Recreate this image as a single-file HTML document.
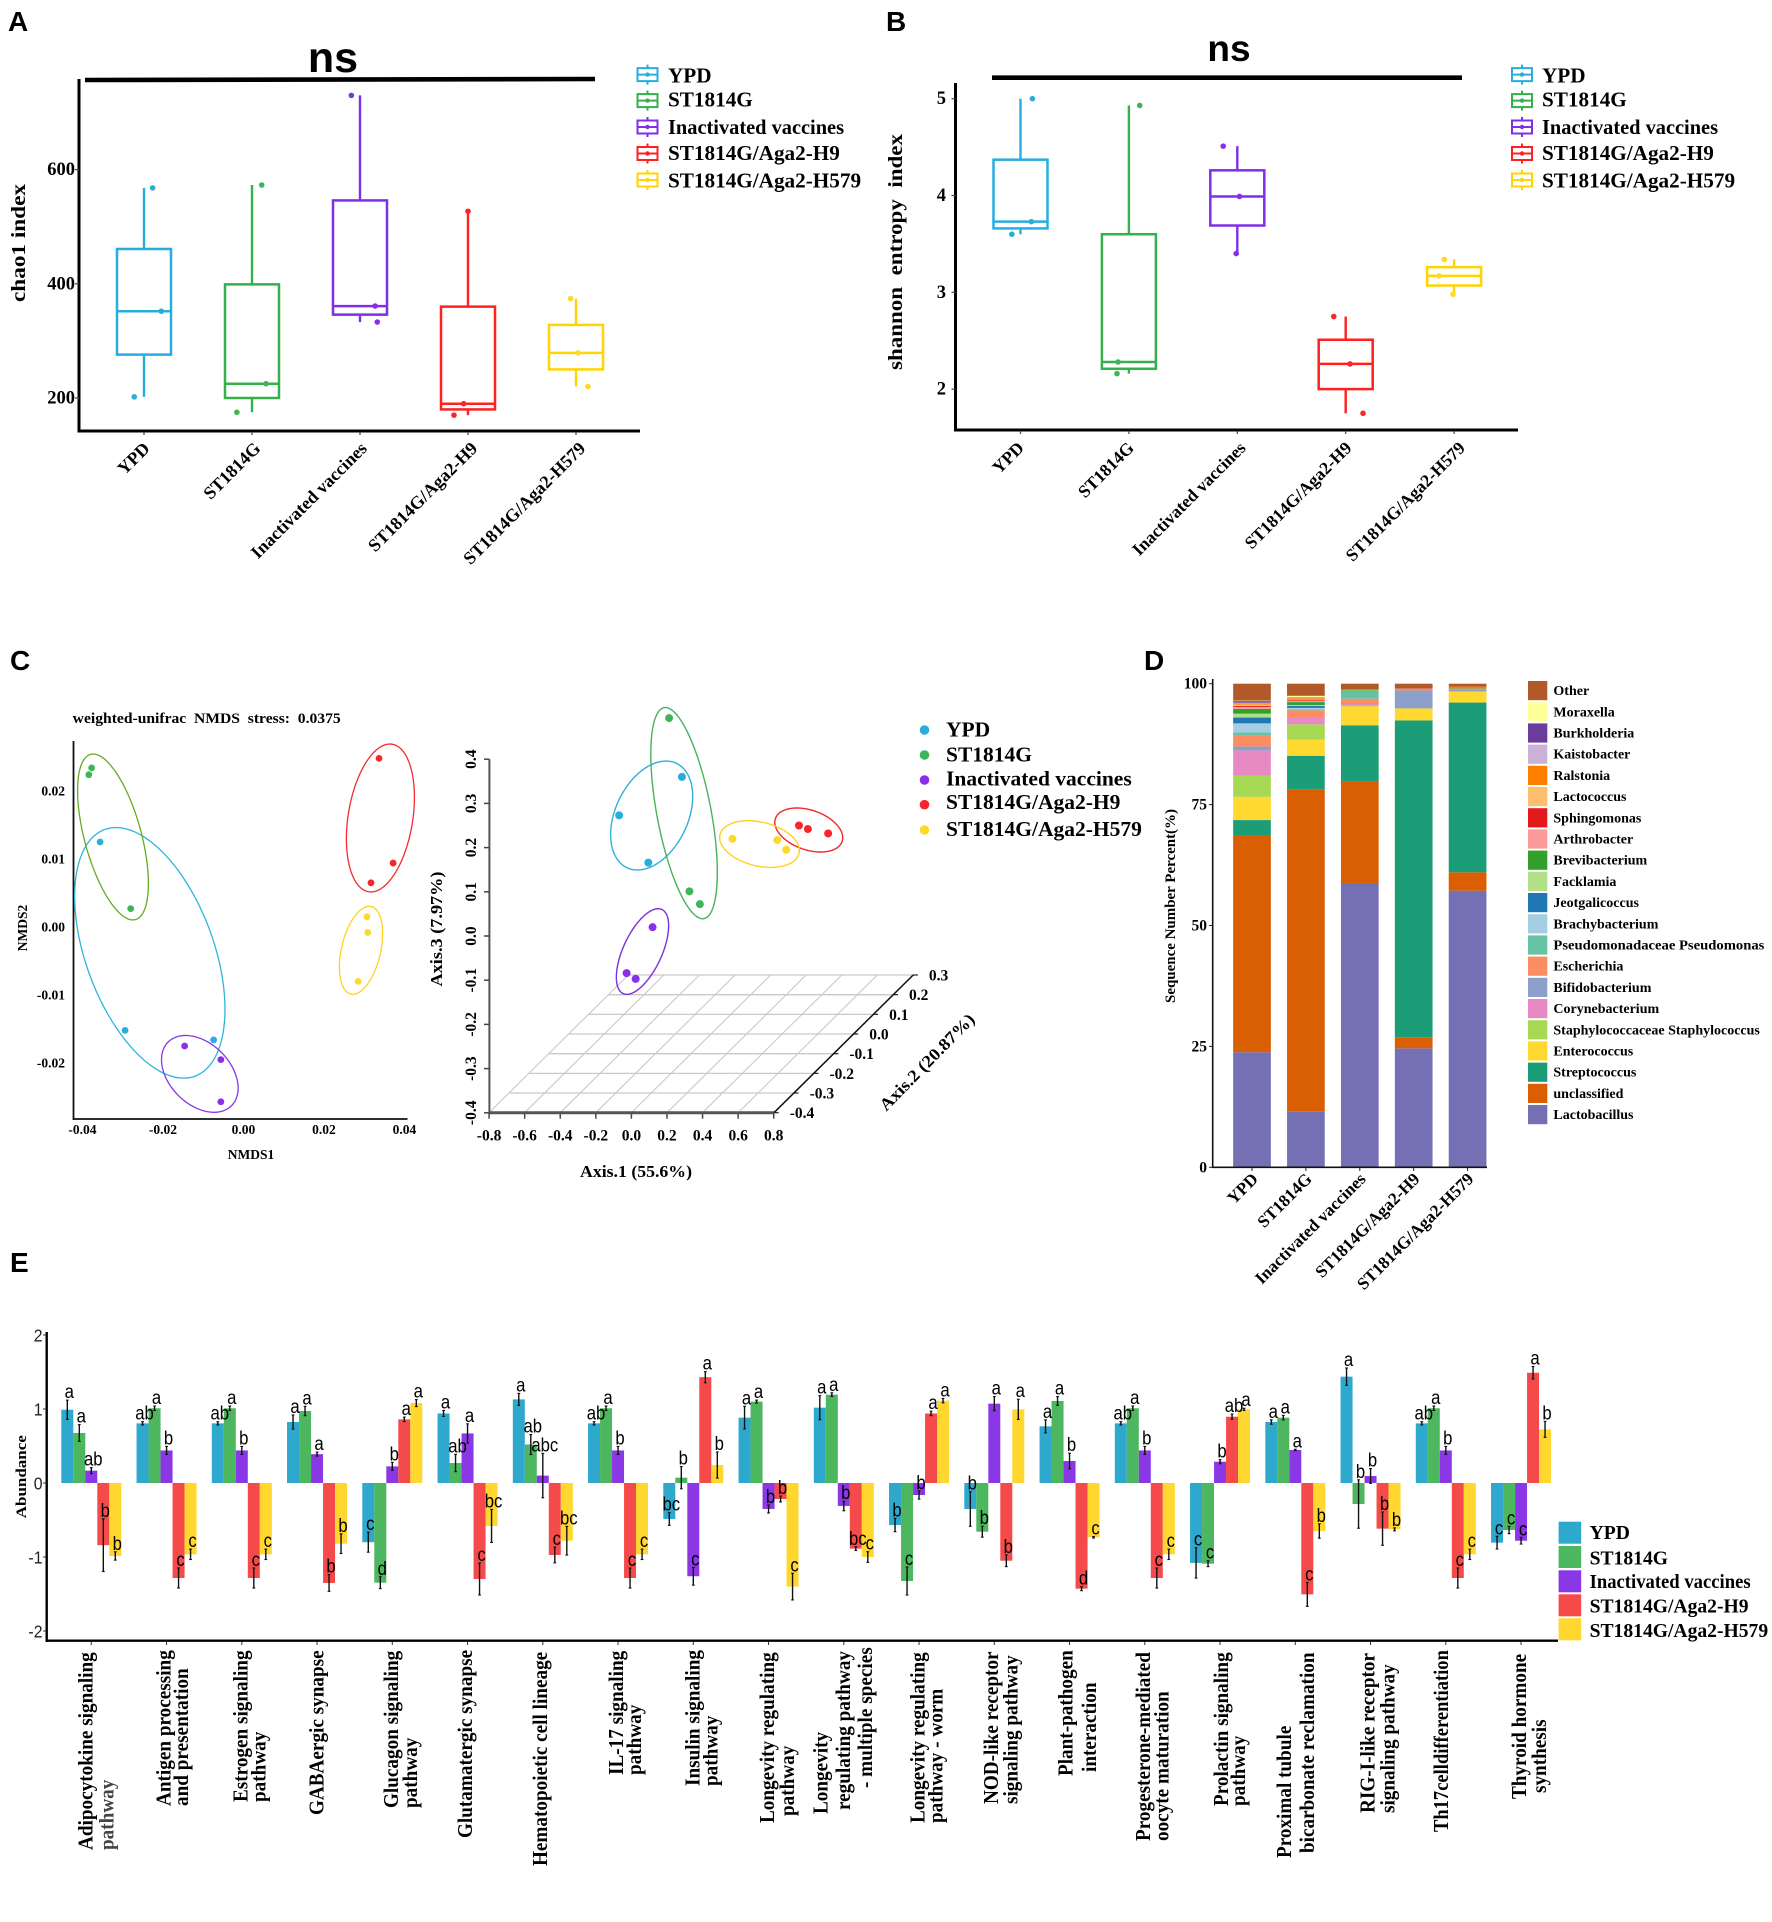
<!DOCTYPE html>
<html lang="en">
<head>
<meta charset="utf-8">
<title>Microbiome diversity figure</title>
<style>
html,body{margin:0;padding:0;background:#fff;}
svg{display:block;}
text{white-space:pre;}
</style>
</head>
<body>
<svg id="figure" xmlns="http://www.w3.org/2000/svg" width="1772" height="1922" viewBox="0 0 1772 1922">
  <rect x="0" y="0" width="1772" height="1922" fill="#fff"/>
  <g id="panelA"></g>
  <g id="panelB"></g>
  <g id="panelC1"></g>
  <g id="panelC2"></g>
  <g id="panelD"></g>
  <g id="panelE"></g>
</svg>
<script>
/* ---------- shared categories ---------- */
const groupNames = ['YPD','ST1814G','Inactivated vaccines','ST1814G/Aga2-H9','ST1814G/Aga2-H579'];

/* ---------- panel A data ---------- */
const chaoMax = [568,573,730,527,374];
const chaoQ3 = [461,399,546,360,328];
const chaoMedian = [352,225,361,190,279];
const chaoQ1 = [276,200,346,180,250];
const chaoMin = [202,175,333,170,220];
const chaoTicks = [200,400,600];

/* ---------- panel B data ---------- */
const shannonMax = [5.0,4.93,4.51,2.75,3.34];
const shannonQ3 = [4.37,3.6,4.26,2.51,3.26];
const shannonMedian = [3.73,2.28,3.99,2.26,3.17];
const shannonQ1 = [3.66,2.21,3.69,2.0,3.07];
const shannonMin = [3.6,2.16,3.40,1.75,2.98];
const shannonTicks = [2,3,4,5];

/* ---------- panel C NMDS data ---------- */
const nmdsXTicks = [-0.04,-0.02,0,0.02,0.04];
const nmdsYTicks = [-0.02,-0.01,0,0.01,0.02];
const nmdsYpdX = [-0.0356,-0.0294,-0.0074];
const nmdsYpdY = [0.0125,-0.0152,-0.0166];
const nmdsStX = [-0.0377,-0.0384,-0.0280];
const nmdsStY = [0.0234,0.0224,0.0027];
const nmdsInactX = [-0.0146,-0.0056,-0.0056];
const nmdsInactY = [-0.0175,-0.0195,-0.0257];
const nmdsH9X = [0.0337,0.0372,0.0317];
const nmdsH9Y = [0.0248,0.0094,0.0065];
const nmdsH579X = [0.0307,0.0309,0.0285];
const nmdsH579Y = [0.0015,-0.0008,-0.0080];
/* ellipse: centre x, centre y, half-range x, half-range y, correlation */
const nmdsEllipseYpd = [-0.02325,-0.0038,0.01868,0.01843,-0.45];
const nmdsEllipseSt = [-0.0324,0.01324,0.0088,0.0122,-0.56];
const nmdsEllipseInact = [-0.01083,-0.0216,0.00952,0.00565,-0.37];
const nmdsEllipseH9 = [0.03404,0.01603,0.00845,0.01088,0.28];
const nmdsEllipseH579 = [0.02922,-0.00343,0.00537,0.00647,0.38];

/* ---------- panel C 3D data ---------- */
const axis1Ticks = [-0.8,-0.6,-0.4,-0.2,0,0.2,0.4,0.6,0.8];
const axis2Ticks = [-0.4,-0.3,-0.2,-0.1,0,0.1,0.2,0.3];
const axis3Ticks = [-0.4,-0.3,-0.2,-0.1,0,0.1,0.2,0.3,0.4];
const pcoaYpdX = [0.284,-0.069,0.095];
const pcoaYpdZ = [0.360,0.273,0.166];
const pcoaStX = [0.212,0.326,0.385];
const pcoaStZ = [0.493,0.101,0.072];
const pcoaInactX = [0.119,-0.027,0.024];
const pcoaInactZ = [0.020,-0.084,-0.097];
const pcoaH9X = [0.942,0.992,1.106];
const pcoaH9Z = [0.250,0.242,0.232];
const pcoaH579X = [0.568,0.820,0.870];
const pcoaH579Z = [0.220,0.217,0.195];
const pcoaEllipseYpd = [0.114,0.2726,0.2308,0.1233,0.35];
const pcoaEllipseSt = [0.296,0.278,0.187,0.239,-0.56];
const pcoaEllipseInact = [0.0623,-0.0351,0.147,0.0969,0.6];
const pcoaEllipseH9 = [0.997,0.2398,0.191,0.0498,-0.35];
const pcoaEllipseH579 = [0.720,0.208,0.224,0.0528,-0.28];

/* ---------- panel D data (bottom to top) ---------- */
const genusNames = ['Lactobacillus','unclassified','Streptococcus','Enterococcus','Staphylococcaceae Staphylococcus','Corynebacterium','Bifidobacterium','Escherichia','Pseudomonadaceae Pseudomonas','Brachybacterium','Jeotgalicoccus','Facklamia','Brevibacterium','Arthrobacter','Sphingomonas','Lactococcus','Ralstonia','Kaistobacter','Burkholderia','Moraxella','Other'];
const stackYpd = [23.8,44.8,3.2,4.8,4.4,5.2,0.8,2.3,0.6,1.9,1.2,0.8,1.0,0.4,0.2,0.3,0.2,0.2,0.3,0.1,3.5];
const stackSt = [11.6,66.6,6.9,3.3,3.2,1.4,0.1,1.4,0.2,0.3,0.4,0.2,0.6,0.3,0.2,0.1,0.2,0.1,0.1,0.3,2.5];
const stackInact = [58.8,20.9,11.7,3.9,0.2,0.3,0.1,1.0,1.4,0.1,0.1,0.1,0.1,0.1,0,0,0,0,0,0,1.2];
const stackH9 = [24.6,2.3,65.5,2.5,0,0,3.7,0.1,0.2,0,0,0,0,0.1,0,0,0,0,0,0,1.0];
const stackH579 = [57.2,3.8,35.1,2.3,0,0,0.3,0.1,0.2,0,0,0,0,0,0,0,0.4,0,0,0,0.6];
const stackTicks = [0,25,50,75,100];

/* ---------- panel E data ---------- */
const pathwayLabels = [
 ['Adipocytokine signaling','pathway'],['Antigen processing','and presentation'],['Estrogen signaling','pathway'],
 ['GABAergic synapse'],['Glucagon signaling','pathway'],['Glutamatergic synapse'],['Hematopoietic cell lineage'],
 ['IL-17 signaling','pathway'],['Insulin signaling','pathway'],['Longevity regulating','pathway'],
 ['Longevity','regulating pathway','- multiple species'],['Longevity regulating','pathway - worm'],
 ['NOD-like receptor','signaling pathway'],['Plant-pathogen','interaction'],['Progesterone-mediated','oocyte maturation'],
 ['Prolactin signaling','pathway'],['Proximal tubule','bicarbonate reclamation'],['RIG-I-like receptor','signaling pathway'],
 ['Th17celldifferentiation'],['Thyroid hormone','synthesis']];
const abundanceYpd = [0.99,0.806,0.806,0.824,-0.80,0.94,1.13,0.806,-0.486,0.883,1.018,-0.568,-0.351,0.766,0.806,-1.08,0.824,1.437,0.806,-0.806];
const abundanceSt = [0.676,1.01,1.01,0.973,-1.347,0.27,0.52,1.01,0.072,1.1,1.194,-1.324,-0.658,1.108,1.01,-1.09,0.883,-0.284,1.01,-0.635];
const abundanceInact = [0.167,0.44,0.44,0.39,0.225,0.67,0.1,0.44,-1.26,-0.351,-0.31,-0.162,1.072,0.297,0.44,0.288,0.446,0.095,0.44,-0.78];
const abundanceH9 = [-0.84,-1.284,-1.284,-1.351,0.86,-1.297,-0.973,-1.284,1.43,-0.216,-0.887,0.94,-1.05,-1.428,-1.284,0.896,-1.505,-0.617,-1.284,1.49];
const abundanceH579 = [-0.986,-0.964,-0.964,-0.82,1.08,-0.58,-0.78,-0.964,0.243,-1.40,-1.0,1.113,0.995,-0.734,-0.964,0.995,-0.649,-0.626,-0.964,0.725];
const errorYpd = [0.13,0.022,0.022,0.095,0.135,0.04,0.081,0.022,0.086,0.153,0.162,0.09,0.234,0.088,0.022,0.205,0.03,0.117,0.022,0.086];
const errorSt = [0.113,0.03,0.03,0.063,0.08,0.117,0.135,0.03,0.15,0.02,0.025,0.19,0.074,0.059,0.03,0.04,0.03,0.327,0.03,0.05];
const errorInact = [0.04,0.054,0.054,0.027,0.054,0.13,0.3,0.054,0.12,0.054,0.065,0.056,0.095,0.106,0.054,0.027,0.01,0.1,0.054,0.045];
const errorH9 = [0.356,0.135,0.135,0.113,0.03,0.216,0.106,0.135,0.075,0.04,0.025,0.03,0.08,0.027,0.135,0.036,0.162,0.225,0.135,0.084];
const errorH579 = [0.056,0.07,0.07,0.133,0.047,0.223,0.194,0.07,0.176,0.18,0.072,0.03,0.137,0.01,0.07,0.015,0.097,0.02,0.07,0.108];
const lettersYpd = ['a','ab','ab','a','c','a','a','ab','bc','a','a','b','b','a','ab','c','a','a','ab','c'];
const lettersSt = ['a','a','a','a','d','ab','ab','a','b','a','a','c','b','a','a','c','a','b','a','c'];
const lettersInact = ['ab','b','b','a','b','a','abc','b','c','b','b','b','a','b','b','b','a','b','b','c'];
const lettersH9 = ['b','c','c','b','a','c','c','c','a','b','bc','a','b','d','c','ab','c','b','c','a'];
const lettersH579 = ['b','c','c','b','a','bc','bc','c','b','c','c','a','a','c','c','a','b','b','c','b'];
const abundanceTicks = [-2,-1,0,1,2];

/* ---------- styling and layout (not data) ---------- */
const SERIF = '"Liberation Serif", serif';
const SANS = '"Liberation Sans", sans-serif';
const boxColors = ['#27aee0','#35b04a','#7f2fe8','#ff2020','#ffd400'];
const dotColors = ['#29aedb','#3fb559','#8a2fe8','#f6262c','#ffd92a'];
const barColors = ['#2ea8cd','#4cb75f','#8a38e6','#f54a4a','#ffd72e'];
const ellipseColorsC = ['#2fb4dc','#66ac22','#8a35e8','#f52a30','#ffd21e'];
const ellipseColorsC2 = ['#2fb0dc','#48b35a','#7a30e0','#f0282e','#ffd21e'];
const genusColors = ['#7570b3','#d95f02','#1b9e77','#ffd92f','#a6d854','#e78ac3','#8da0cb','#fc8d62','#66c2a5','#a6cee3','#1f78b4','#b2df8a','#33a02c','#fb9a99','#e31a1c','#fdbf6f','#ff7f00','#cab2d6','#6a3d9a','#ffff99','#b15928'];
const jitterA = [[0.08,0.16,-0.09],[0.09,0.13,-0.14],[-0.08,0.14,0.16],[0,-0.04,-0.13],[-0.05,0.02,0.11]];
const jitterB = [[0.11,0.10,-0.08],[0.10,-0.10,-0.11],[-0.13,0.02,-0.01],[-0.11,0.04,0.16],[-0.09,-0.14,-0.01]];
const labelNudgeA = [6.8,9.5,8,10.5,10.5];
const labelNudgeB = [4.5,6,9.4,7,12];
const pathwayLayout = [
 [[92.7,1850],[113.5,1850]],[[170.6,1806],[188,1806]],[[247.5,1802],[265.5,1802]],[[323.7,1815]],[[398,1808],[417,1808]],
 [[471.8,1838]],[[547,1866]],[[623,1775],[641,1775]],[[699.4,1786],[717.5,1786]],[[774,1823],[794,1816]],
 [[827.7,1814],[850,1810],[871.8,1788]],[[924.4,1823],[942.5,1823]],[[997.9,1804],[1017.6,1804]],[[1072.4,1776],[1096,1772]],
 [[1149.8,1841],[1168.5,1841]],[[1227.8,1806],[1244.8,1806]],[[1291,1858],[1314,1853]],[[1374.7,1813],[1394.5,1813]],
 [[1448,1832]],[[1526,1799],[1546,1793]]];

/* ---------- helpers ---------- */
const NS = 'http://www.w3.org/2000/svg';
function add(parent, tag, attrs, name) {
  const el = document.createElementNS(NS, tag);
  for (const k in attrs) el.setAttribute(k, attrs[k]);
  
  
  parent.appendChild(el);
  return el;
}
function line(p, x1, y1, x2, y2, stroke, w, name) {
  return add(p, 'line', {x1, y1, x2, y2, stroke, 'stroke-width': w}, name);
}
function txt(p, x, y, str, o, name) {
  const a = {x, y, 'font-family': o.family || SERIF, 'font-size': o.size, 'font-weight': o.weight || 'bold', fill: o.fill || '#000', 'text-anchor': o.anchor || 'start'};
  let tr = '';
  if (o.rotate !== undefined) tr += 'rotate(' + o.rotate + ' ' + x + ' ' + y + ') ';
  if (o.sx) tr += 'translate(' + x + ' ' + y + ') scale(' + o.sx + ' 1) translate(' + (-x) + ' ' + (-y) + ')';
  if (tr) a.transform = tr;
  if (o.len) { a.textLength = o.len; a.lengthAdjust = 'spacingAndGlyphs'; }
  const el = add(p, 'text', a, name);
  el.textContent = str;
  return el;
}
function slug(s) { return s.toLowerCase().replace(/[^a-z0-9]+/g, '-').replace(/^-|-$/g, ''); }
function ellipsePath(e, sx, sy) {
  const root = Math.sqrt(1 - e[4] * e[4]);
  let d = '';
  for (let i = 0; i <= 96; i++) {
    const t = i / 96 * Math.PI * 2;
    const vx = e[0] + e[2] * Math.cos(t);
    const vy = e[1] + e[3] * (e[4] * Math.cos(t) + root * Math.sin(t));
    d += (i ? 'L' : 'M') + sx(vx).toFixed(2) + ' ' + sy(vy).toFixed(2);
  }
  return d + 'Z';
}

/* ---------- panel letters ---------- */
const rootSvg = document.getElementById('figure');
[['A',8,31],['B',886,31],['C',10,670],['D',1144,670],['E',10,1272]].forEach(function (l) {
  txt(rootSvg, l[1], l[2], l[0], {family: SANS, size: 28}, 'panel-label-' + l[0].toLowerCase());
});

/* ---------- box panels ---------- */
const boxLegendKeyY = [74.6, 100.6, 127, 153.5, 180];
const boxLegendTextY = [82.3, 106.4, 134, 160, 187.5];
function drawBoxPanel(g, c) {
  const sy = c.y, sx = c.x;
  line(g, c.axisX, c.axisTop, c.axisX, c.axisBottom + 1.5, '#000', 3, 'y-axis-line');
  line(g, c.axisX, c.axisBottom, c.axisRight, c.axisBottom, '#000', 3, 'x-axis-line');
  add(g, 'line', {x1: c.barX1, y1: c.barY1, x2: c.barX2, y2: c.barY2, stroke: '#000', 'stroke-width': 4.6}, 'significance-bar');
  txt(g, c.nsX, c.nsY, 'ns', {family: SANS, size: c.nsSize, anchor: 'middle'}, 'significance-label');
  txt(g, c.titleX, c.titleY, c.title, {size: 20, anchor: 'middle', rotate: -90, len: c.titleLen}, 'y-axis-title');
  c.ticks.forEach(function (t) {
    line(g, c.axisX - 4, sy(t), c.axisX, sy(t), '#444', 1.2, 'y-tick-' + t);
    txt(g, c.tickLabelX, sy(t) + c.tickDy, String(t), {size: 18.5, anchor: 'end'}, 'y-tick-label-' + t);
  });
  groupNames.forEach(function (n, i) {
    const cg = add(g, 'g', {}, 'box-' + slug(n));
    const col = boxColors[i], x = sx(i), w = 54;
    line(cg, x, sy(c.max[i]), x, sy(c.q3[i]), col, 2.4, 'upper-whisker');
    line(cg, x, sy(c.q1[i]), x, sy(c.min[i]), col, 2.4, 'lower-whisker');
    add(cg, 'rect', {x: x - w / 2, y: sy(c.q3[i]), width: w, height: sy(c.q1[i]) - sy(c.q3[i]), fill: 'none', stroke: col, 'stroke-width': 2.5}, 'interquartile-box');
    line(cg, x - w / 2, sy(c.median[i]), x + w / 2, sy(c.median[i]), col, 2.5, 'median-line');
    [c.max[i], c.median[i], c.min[i]].forEach(function (v, k) {
      add(cg, 'circle', {cx: x + c.jitter[i][k] * c.step, cy: sy(v), r: 2.8, fill: dotColors[i]}, 'sample-point');
    });
    line(g, x, c.axisBottom + 1, x, c.axisBottom + 4, '#444', 1.2, 'x-tick-' + slug(n));
    txt(g, x + c.lblDx[i], c.lblY, n, {size: c.lblSize, anchor: 'end', rotate: -45}, 'x-tick-label-' + slug(n));
    const ly = boxLegendKeyY[i];
    const key = add(g, 'g', {}, 'legend-key-' + slug(n));
    line(key, c.legX, ly - 10, c.legX, ly + 10, col, 2, 'legend-whisker');
    add(key, 'rect', {x: c.legX - 10, y: ly - 6.5, width: 20, height: 13, fill: '#fff', stroke: col, 'stroke-width': 2}, 'legend-box');
    line(key, c.legX - 10, ly, c.legX + 10, ly, col, 2, 'legend-median');
    add(key, 'circle', {cx: c.legX, cy: ly, r: 2.2, fill: col}, 'legend-dot');
    const lo = {size: 21.2};
    if (i === 2) lo.len = 176;
    txt(g, c.legTextX, boxLegendTextY[i], n, lo, 'legend-label-' + slug(n));
  });
}
drawBoxPanel(document.getElementById('panelA'), {
  x: function (i) { return 144 + i * 108; }, y: function (v) { return 398 - (v - 200) * 0.571; }, step: 108,
  max: chaoMax, q3: chaoQ3, median: chaoMedian, q1: chaoQ1, min: chaoMin, jitter: jitterA, ticks: chaoTicks,
  axisX: 79, axisTop: 79, axisBottom: 431, axisRight: 640, barX1: 85, barY1: 80, barX2: 595, barY2: 79,
  nsX: 333, nsY: 72, nsSize: 43, title: 'chao1 index', titleX: 25, titleY: 243, titleLen: 118,
  tickLabelX: 75, tickDy: 5.5, lblDx: labelNudgeA, lblY: 449.5, lblSize: 18, legX: 647.5, legTextX: 668
});
drawBoxPanel(document.getElementById('panelB'), {
  x: function (i) { return 1020.5 + i * 108.4; }, y: function (v) { return 98.7 + (5 - v) * 96.8; }, step: 108.4,
  max: shannonMax, q3: shannonQ3, median: shannonMedian, q1: shannonQ1, min: shannonMin, jitter: jitterB, ticks: shannonTicks,
  axisX: 955.5, axisTop: 83, axisBottom: 430, axisRight: 1518, barX1: 992, barY1: 77.7, barX2: 1462, barY2: 77.7,
  nsX: 1229, nsY: 61, nsSize: 37, title: 'shannon  entropy  index', titleX: 902, titleY: 252, titleLen: 236,
  tickLabelX: 946, tickDy: 5.5, lblDx: labelNudgeB, lblY: 449, lblSize: 17.6, legX: 1522, legTextX: 1542
});

/* ---------- panel C: NMDS ---------- */
(function () {
  const g = document.getElementById('panelC1');
  const sx = function (v) { return 243.4 + v * 4025; };
  const sy = function (v) { return 927 - v * 6800; };
  txt(g, 72.7, 723, 'weighted-unifrac  NMDS  stress:  0.0375', {size: 14.5, len: 268}, 'chart-title');
  line(g, 73.5, 741, 73.5, 1120, '#111', 1.8, 'y-axis-line');
  line(g, 73, 1119, 407.5, 1119, '#111', 1.8, 'x-axis-line');
  nmdsXTicks.forEach(function (t) {
    txt(g, sx(t), 1134, t.toFixed(2), {size: 13.5, anchor: 'middle'}, 'x-tick-label');
  });
  nmdsYTicks.forEach(function (t) {
    txt(g, 65, sy(t) + 4.5, t.toFixed(2), {size: 13.5, anchor: 'end'}, 'y-tick-label');
  });
  txt(g, 251, 1159, 'NMDS1', {size: 13.5, anchor: 'middle'}, 'x-axis-title');
  txt(g, 27, 928, 'NMDS2', {size: 13.5, anchor: 'middle', rotate: -90}, 'y-axis-title');
  const ell = [nmdsEllipseYpd, nmdsEllipseSt, nmdsEllipseInact, nmdsEllipseH9, nmdsEllipseH579];
  const xs = [nmdsYpdX, nmdsStX, nmdsInactX, nmdsH9X, nmdsH579X];
  const ys = [nmdsYpdY, nmdsStY, nmdsInactY, nmdsH9Y, nmdsH579Y];
  groupNames.forEach(function (n, i) {
    add(g, 'path', {d: ellipsePath(ell[i], sx, sy), fill: 'none', stroke: ellipseColorsC[i], 'stroke-width': 1.3}, 'ellipse-' + slug(n));
  });
  groupNames.forEach(function (n, i) {
    xs[i].forEach(function (v, k) {
      add(g, 'circle', {cx: sx(v), cy: sy(ys[i][k]), r: 3.4, fill: dotColors[i]}, 'point-' + slug(n));
    });
  });
})();

/* ---------- panel C: 3D ---------- */
(function () {
  const g = document.getElementById('panelC2');
  const sx = function (v) { return 631.4 + v * 177.9; };
  const sy = function (v) { return 936 - v * 442; };
  const depth = function (a2) { return (a2 + 0.4) / 0.7; };
  const dX = 139.2, dY = 137.7, fy = 1112.7;
  const legendKeyY = [730, 755, 780, 804.7, 830];
  const legendTextY = [736.7, 761.7, 785.5, 809, 836];
  axis2Ticks.forEach(function (t) {
    const f = depth(t);
    if (t > -0.4) line(g, sx(-0.8) + f * dX, fy - f * dY, sx(0.8) + f * dX, fy - f * dY, '#c9c9c9', 1.3, 'floor-grid-depth');
    line(g, sx(0.8) + f * dX, fy - f * dY, sx(0.8) + f * dX + 5, fy - f * dY, '#222', 1.2, 'axis2-tick');
    txt(g, sx(0.8) + f * dX + 16, fy - f * dY + 5.5, t.toFixed(1), {size: 15.5}, 'axis2-tick-label');
  });
  axis1Ticks.forEach(function (t) {
    line(g, sx(t), fy, sx(t) + dX, fy - dY, '#c9c9c9', 1.1, 'floor-grid-axis1');
    line(g, sx(t), fy, sx(t), fy + 6, '#444', 1.5, 'axis1-tick');
    txt(g, sx(t), 1140.7, t.toFixed(1), {size: 15.5, anchor: 'middle'}, 'axis1-tick-label');
  });
  line(g, 489.4, sy(0.4), 489.4, fy, '#555', 2, 'axis3-line');
  line(g, 489.4, fy, 774, fy, '#555', 3, 'axis1-line');
  line(g, 774, fy, 913.2, 975, '#111', 1.5, 'axis2-line');
  axis3Ticks.forEach(function (t) {
    line(g, 484, sy(t), 489.4, sy(t), '#444', 1.5, 'axis3-tick');
    txt(g, 476, sy(t), t.toFixed(1), {size: 15.5, anchor: 'middle', rotate: -90}, 'axis3-tick-label');
  });
  txt(g, 636, 1177, 'Axis.1 (55.6%)', {size: 17, anchor: 'middle', len: 112}, 'axis1-title');
  txt(g, 442, 929, 'Axis.3 (7.97%)', {size: 17, anchor: 'middle', rotate: -90, len: 115}, 'axis3-title');
  txt(g, 931, 1066, 'Axis.2 (20.87%)', {size: 17, anchor: 'middle', rotate: -45.6, len: 128}, 'axis2-title');
  const ell = [pcoaEllipseYpd, pcoaEllipseSt, pcoaEllipseInact, pcoaEllipseH9, pcoaEllipseH579];
  const xs = [pcoaYpdX, pcoaStX, pcoaInactX, pcoaH9X, pcoaH579X];
  const zs = [pcoaYpdZ, pcoaStZ, pcoaInactZ, pcoaH9Z, pcoaH579Z];
  groupNames.forEach(function (n, i) {
    add(g, 'path', {d: ellipsePath(ell[i], sx, sy), fill: 'none', stroke: ellipseColorsC2[i], 'stroke-width': 1.4}, 'ellipse-3d-' + slug(n));
  });
  groupNames.forEach(function (n, i) {
    xs[i].forEach(function (v, k) {
      add(g, 'circle', {cx: sx(v), cy: sy(zs[i][k]), r: 4, fill: dotColors[i]}, 'point-3d-' + slug(n));
    });
    add(g, 'circle', {cx: 924.5, cy: legendKeyY[i], r: 4.8, fill: dotColors[i]}, 'legend-dot-' + slug(n));
    txt(g, 946, legendTextY[i], n, {size: 21.5}, 'legend-label-' + slug(n));
  });
})();

/* ---------- panel D ---------- */
(function () {
  const g = document.getElementById('panelD');
  const stacks = [stackYpd, stackSt, stackInact, stackH9, stackH579];
  const sy = function (v) { return 1167.3 - v * 4.836; };
  const sx = function (i) { return 1252 + i * 53.9; };
  const barW = 37.7;
  txt(g, 1175, 906, 'Sequence Number Percent(%)', {size: 14.5, anchor: 'middle', rotate: -90, len: 194}, 'y-axis-title');
  stackTicks.forEach(function (t) {
    line(g, 1209, sy(t), 1212.7, sy(t), '#222', 1, 'y-tick-' + t);
    txt(g, 1207, sy(t) + 5, String(t), {size: 15.5, anchor: 'end'}, 'y-tick-label-' + t);
  });
  groupNames.forEach(function (n, i) {
    const cg = add(g, 'g', {}, 'stacked-bar-' + slug(n));
    let acc = 0;
    stacks[i].forEach(function (v, k) {
      if (v > 0) add(cg, 'rect', {x: sx(i) - barW / 2, y: sy(acc + v), width: barW, height: v * 4.836, fill: genusColors[k]}, 'segment-' + slug(genusNames[k]));
      acc += v;
    });
    line(g, sx(i), 1167, sx(i), 1171, '#222', 1, 'x-tick-' + slug(n));
    txt(g, sx(i) + 7, 1180, n, {size: 17.2, anchor: 'end', rotate: -45}, 'x-tick-label-' + slug(n));
  });
  line(g, 1212.7, 679, 1212.7, 1168, '#111', 1.6, 'y-axis-line');
  line(g, 1212, 1167.3, 1487, 1167.3, '#111', 1.6, 'x-axis-line');
  genusNames.slice().reverse().forEach(function (n, i) {
    const y = 690.6 + i * 21.2;
    add(g, 'rect', {x: 1528, y: y - 9.6, width: 19.3, height: 19.2, fill: genusColors[genusNames.length - 1 - i]}, 'legend-swatch-' + slug(n));
    const lo = {size: 14};
    if (n === 'Staphylococcaceae Staphylococcus') lo.len = 206.5;
    if (n === 'Pseudomonadaceae Pseudomonas') lo.len = 211;
    txt(g, 1553.4, y + 4.5, n, lo, 'legend-label-' + slug(n));
  });
})();

/* ---------- panel E ---------- */
(function () {
  const g = document.getElementById('panelE');
  const series = [abundanceYpd, abundanceSt, abundanceInact, abundanceH9, abundanceH579];
  const errors = [errorYpd, errorSt, errorInact, errorH9, errorH579];
  const letters = [lettersYpd, lettersSt, lettersInact, lettersH9, lettersH579];
  const sy = function (v) { return 1483 - v * 74; };
  const sx = function (i) { return 91.3 + i * 75.25; };
  const bw = 12;
  pathwayLabels.forEach(function (lines, i) {
    const cg = add(g, 'g', {}, 'pathway-group-' + slug(lines.join(' ')));
    series.forEach(function (s, k) {
      const v = s[i], left = sx(i) - 30 + k * bw;
      add(cg, 'rect', {x: left, y: Math.min(sy(v), sy(0)), width: bw, height: Math.abs(sy(v) - sy(0)), fill: barColors[k]}, 'bar-' + slug(groupNames[k]));
    });
    series.forEach(function (s, k) {
      const v = s[i], e = errors[k][i], cx = sx(i) - 24 + k * bw;
      line(cg, cx, sy(v + e), cx, sy(v - e), '#111', 1.4, 'error-bar');
      line(cg, cx - 1.4, sy(v + e), cx + 1.4, sy(v + e), '#111', 1.1, 'error-cap-upper');
      line(cg, cx - 1.4, sy(v - e), cx + 1.4, sy(v - e), '#111', 1.1, 'error-cap-lower');
      txt(cg, cx + 2, sy(v + e) - 2, letters[k][i], {family: SANS, weight: 'normal', size: 19, anchor: 'middle', sx: 0.88}, 'significance-letter');
    });
    line(g, sx(i), 1641, sx(i), 1645, '#333', 1, 'x-tick');
    lines.forEach(function (t, k) {
      const pos = pathwayLayout[i][k];
      const o = {size: 21, rotate: -90, sx: 0.914};
      if (i === 0 && k === 1) o.fill = '#444';
      if (t === 'Th17celldifferentiation') { o.len = 199; }
      txt(g, pos[0], pos[1], t, o, 'x-tick-label-' + slug(t));
    });
  });
  line(g, 46.7, 1332, 46.7, 1642, '#000', 2.4, 'y-axis-line');
  line(g, 46, 1640.7, 1558, 1640.7, '#000', 2.4, 'x-axis-line');
  abundanceTicks.forEach(function (t) {
    line(g, 43, sy(t), 46, sy(t), '#333', 1, 'y-tick');
    txt(g, 42.5, sy(t) + 6.5, String(t), {family: SANS, weight: 'normal', size: 18, anchor: 'end', fill: '#222', sx: 0.88}, 'y-tick-label');
  });
  txt(g, 26, 1476.7, 'Abundance', {size: 15, anchor: 'middle', rotate: -90, len: 83}, 'y-axis-title');
  const legendTop = [1521.7, 1546, 1570.3, 1594.3, 1618.3];
  const legendTextY = [1539.2, 1564.5, 1588, 1612.5, 1637];
  groupNames.forEach(function (n, i) {
    add(g, 'rect', {x: 1558.6, y: legendTop[i], width: 22.6, height: 22, fill: barColors[i]}, 'legend-swatch-' + slug(n));
    const lo = {size: 19.6};
    if (i === 2) lo.len = 161;
    txt(g, 1589.6, legendTextY[i], n, lo, 'legend-label-' + slug(n));
  });
})();
</script>
</body>
</html>
